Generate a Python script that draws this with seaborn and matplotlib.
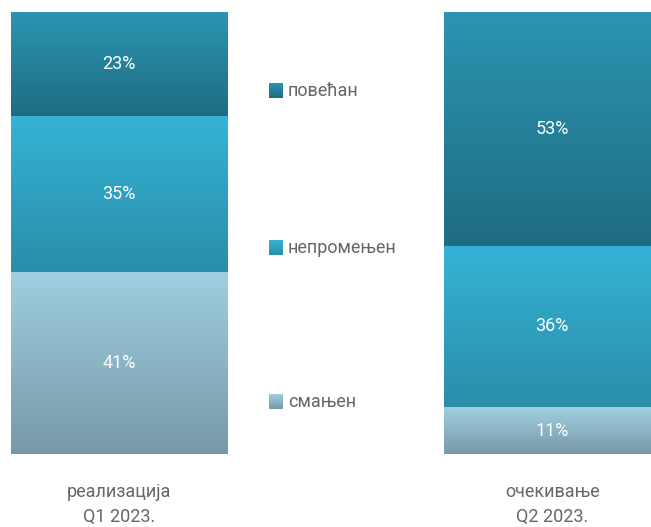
import numpy as np
import pandas as pd
import matplotlib
matplotlib.use("Agg")
import matplotlib.pyplot as plt
from matplotlib.colors import LinearSegmentedColormap
import seaborn as sns

# podaci (procene sa slike)
periods = ['реализација\nQ1 2023.', 'очекивање\nQ2 2023.']
series = ['смањен', 'непромењен', 'повећан']
smanjen = [41.2, 10.6]
nepromenjen = [35.3, 36.5]
povecan = [23.5, 52.9]
value_labels = [['41%', '11%'], ['35%', '36%'], ['23%', '53%']]

# gradijent (gore, dole) za svaku seriju
grad_colors = [('#9fcfe1', '#7799a7'), ('#35b3d6', '#2a8ea8'), ('#2b95b2', '#1f6c81')]

sns.set_style('white')
plt.rcParams['font.family'] = ['Roboto', 'DejaVu Sans']

df = pd.DataFrame({'period': periods, 'смањен': smanjen,
                   'непромењен': nepromenjen, 'повећан': povecan})
vals = df[series].to_numpy()
cum = vals.cumsum(axis=1)

fig = plt.figure(figsize=(6.51, 5.27), dpi=100)
ax = fig.add_axes([0, 73 / 527, 1, 442 / 527])

# kumulativni stubovi, od najvišeg ka najnižem
for j in reversed(range(len(series))):
    sns.barplot(x=df['period'], y=cum[:, j], color=grad_colors[j][0],
                width=0.5, ax=ax, zorder=1)

def grad_img(x0, x1, y0, y1, top, bottom):
    cmap = LinearSegmentedColormap.from_list('g', [bottom, top])
    g = np.linspace(0, 1, 256).reshape(-1, 1)
    ax.imshow(g, cmap=cmap, aspect='auto', origin='lower',
              extent=[x0, x1, y0, y1], zorder=2, interpolation='bilinear')

for i in range(len(periods)):
    for j in range(len(series)):
        y0 = cum[i, j - 1] if j > 0 else 0
        y1 = cum[i, j]
        grad_img(i - 0.25, i + 0.25, y0, y1, *grad_colors[j])
        ax.text(i, (y0 + y1) / 2, value_labels[j][i], color='white',
                ha='center', va='center', fontsize=13, zorder=3)

# legenda u sredini
leg_y = [11.8, 46.6, 82.1]
for j, name in enumerate(series):
    grad_img(0.346, 0.378, leg_y[j] - 1.6, leg_y[j] + 1.6, *grad_colors[j])
    ax.text(0.389, leg_y[j], name, color='#666666', ha='left', va='center',
            fontsize=13)

ax.set_xlim(-0.2754, 1.228)
ax.set_ylim(0, 100)
ax.set_xlabel('')
ax.set_ylabel('')
ax.set_yticks([])
ax.tick_params(axis='x', length=0, pad=21, labelsize=13, labelcolor='#666666')
for lbl in ax.get_xticklabels():
    lbl.set_linespacing(1.45)
sns.despine(ax=ax, left=True, bottom=True)

fig.savefig('out.png', dpi=100)
